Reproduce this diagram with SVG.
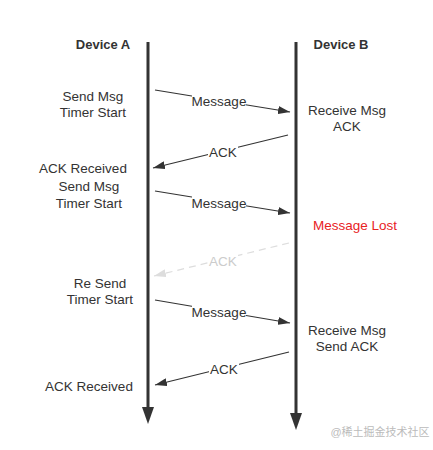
<svg xmlns="http://www.w3.org/2000/svg" width="433" height="450" viewBox="0 0 433 450">
<defs>
<marker id="ah" viewBox="0 0 12 8" refX="12" refY="4" markerWidth="12" markerHeight="8" markerUnits="userSpaceOnUse" orient="auto"><path d="M0,0 L12,4 L0,8 Z" fill="#333"/></marker>
<marker id="ahg" viewBox="0 0 12 8" refX="12" refY="4" markerWidth="12" markerHeight="8" markerUnits="userSpaceOnUse" orient="auto"><path d="M0,0 L12,4 L0,8 Z" fill="#ddd"/></marker>
</defs>
<style>
text{font-family:"Liberation Sans",Arial,sans-serif;font-size:13.5px;fill:#333;text-anchor:middle}
.h{font-weight:bold;font-size:13px}
.red{fill:#e8231f}
.gl{fill:#ccc}
.wm{fill:#bbb;font-size:11px;font-family:"Liberation Sans","Noto Sans CJK SC",sans-serif}
.msg{stroke:#333;stroke-width:1.2;fill:none;marker-end:url(#ah)}
.dash{stroke:#ddd;stroke-width:1.2;fill:none;stroke-dasharray:7 5;marker-end:url(#ahg)}
.life{stroke:#333;stroke-width:3;fill:none}
.bg{fill:#fff}
</style>
<rect width="433" height="450" fill="#fff"/>
<g id="deviceA">
<text class="h" x="103" y="49">Device A</text>
<line class="life" x1="148" y1="42" x2="148" y2="412"/>
<path d="M142,407 L154,407 L148,424 Z" fill="#333"/>
</g>
<g id="deviceB">
<text class="h" x="341" y="49">Device B</text>
<line class="life" x1="296" y1="42" x2="296" y2="418"/>
<path d="M290,413 L302,413 L296,430 Z" fill="#333"/>
</g>
<g id="connectors">
<line class="msg" x1="155" y1="90" x2="290" y2="112"/>
<rect class="bg" x="192" y="94" width="54" height="14"/>
<text x="219" y="106">Message</text>
<line class="msg" x1="288" y1="135" x2="153" y2="168"/>
<rect class="bg" x="208" y="145" width="30" height="14"/>
<text x="223" y="157">ACK</text>
<line class="msg" x1="155" y1="191" x2="290" y2="213"/>
<rect class="bg" x="192" y="195" width="54" height="14"/>
<text x="219" y="208">Message</text>
<line class="dash" x1="289" y1="243" x2="154" y2="276"/>
<rect class="bg" x="208" y="254" width="30" height="14"/>
<text class="gl" x="223" y="266">ACK</text>
<line class="msg" x1="155" y1="300" x2="290" y2="323"/>
<rect class="bg" x="192" y="305" width="54" height="14"/>
<text x="219" y="317">Message</text>
<line class="msg" x1="289" y1="352" x2="155" y2="385"/>
<rect class="bg" x="209" y="362" width="30" height="14"/>
<text x="224" y="374">ACK</text>
</g>
<g id="labelsA">
<text x="93" y="101">Send Msg</text>
<text x="93" y="117">Timer Start</text>
<text x="83" y="173">ACK Received</text>
<text x="89" y="191">Send Msg</text>
<text x="89" y="208">Timer Start</text>
<text x="100" y="288">Re Send</text>
<text x="100" y="304">Timer Start</text>
<text x="89" y="391">ACK Received</text>
</g>
<g id="labelsB">
<text x="347" y="115">Receive Msg</text>
<text x="347" y="131">ACK</text>
<text class="red" x="355" y="230">Message Lost</text>
<text x="347" y="335">Receive Msg</text>
<text x="347" y="351">Send ACK</text>
</g>
<text class="wm" x="380" y="436">@稀土掘金技术社区</text>
</svg>
